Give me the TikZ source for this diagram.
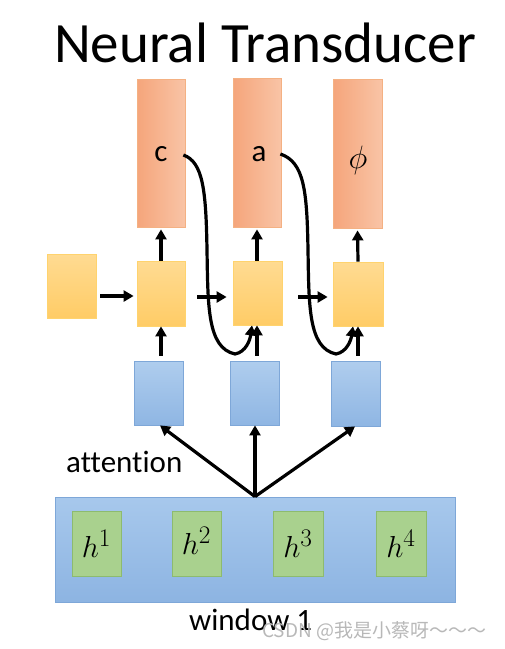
\documentclass[tikz,border=0pt]{standalone}
\usepackage{graphicx}
\usepackage{fontspec}
\setmainfont{Carlito}[Ligatures=NoCommon]
\newfontfamily\cjkfont{Noto Sans CJK SC}
\usetikzlibrary{arrows.meta}
\definecolor{orgL}{HTML}{F5A57B}
\definecolor{orgR}{HTML}{F9C4A6}
\definecolor{orgB}{HTML}{F4B183}
\definecolor{ylwT}{HTML}{FFDB92}
\definecolor{ylwB}{HTML}{FFCC66}
\definecolor{ylwD}{HTML}{FFD36E}
\definecolor{bluT}{HTML}{AFCDEE}
\definecolor{bluB}{HTML}{8FB6E3}
\definecolor{bluD}{HTML}{7EA7D8}
\definecolor{winT}{HTML}{A7C8EC}
\definecolor{winB}{HTML}{8DB4E2}
\definecolor{grn}{HTML}{A9D18E}
\definecolor{grnD}{HTML}{8DBB6E}
\newcommand{\bigmath}[1]{\scalebox{1.22}{$#1$}}
\tikzset{
  box/.style={rectangle, inner sep=0pt, line width=0.8pt},
  outbox/.style={box, draw=orgB, left color=orgL, right color=orgR},
  hidbox/.style={box, draw=ylwD, top color=ylwT, bottom color=ylwB},
  encbox/.style={box, draw=bluD, top color=bluT, bottom color=bluB},
  winbox/.style={box, draw=bluD, top color=winT, bottom color=winB},
  hbox/.style={box, draw=grnD, fill=grn},
  arr/.style={line width=3.2pt, -{Triangle[length=10pt,width=11pt]}},
  curv/.style={line width=3.2pt, -{Triangle[length=10pt,width=11pt]}},
  lbl/.style={inner sep=0pt, font=\fontsize{31}{31}\selectfont},
  hl/.style={inner sep=0pt, font=\fontsize{24.88}{25}\selectfont},
}
\begin{document}
\begin{tikzpicture}[x=1pt,y=-1pt]
\useasboundingbox (0,0) rectangle (505,649);
% title
\node[inner sep=0pt, font=\fontsize{57}{57}\selectfont, anchor=base] (title) at (265,62) {Neural Transducer};
% output boxes
\node[outbox, minimum width=48pt, minimum height=148pt] (o1) at (161,153) {};
\node[outbox, minimum width=48pt, minimum height=149pt] (o2) at (257,152.5) {};
\node[outbox, minimum width=49pt, minimum height=149pt] (o3) at (357.5,153.5) {};
\node[lbl] (lc) at (161,154) {c};
\node[lbl] (la) at (259,154) {a};
\node[hl] (lp) at (358,160) {\scalebox{1.3}{$\phi$}};
% hidden boxes
\node[hidbox, minimum width=49pt, minimum height=64pt] (y0) at (71.5,286) {};
\node[hidbox, minimum width=48pt, minimum height=65pt] (y1) at (161,293.5) {};
\node[hidbox, minimum width=49pt, minimum height=64pt] (y2) at (257.5,293) {};
\node[hidbox, minimum width=50pt, minimum height=64pt] (y3) at (358,294) {};
% encoder boxes
\node[encbox, minimum width=49pt, minimum height=64pt] (b1) at (158.5,393) {};
\node[encbox, minimum width=49pt, minimum height=64pt] (b2) at (254.5,393) {};
\node[encbox, minimum width=49pt, minimum height=65pt] (b3) at (355.5,393.5) {};
% window
\node[winbox, minimum width=400pt, minimum height=105pt] (win) at (255,549.5) {};
\node[hbox, minimum width=49pt, minimum height=65pt] (h1) at (96.5,543.5) {};
\node[hbox, minimum width=49pt, minimum height=65pt] (h2) at (196.5,543.5) {};
\node[hbox, minimum width=50pt, minimum height=65pt] (h3) at (298,543.5) {};
\node[hbox, minimum width=50pt, minimum height=65pt] (h4) at (401,543.5) {};
\node[hl] at (h1) {\bigmath{h^1}};
\node[hl] at ([yshift=3pt]h2.center) {\bigmath{h^2}};
\node[hl] at (h3) {\bigmath{h^3}};
\node[hl] at (h4) {\bigmath{h^4}};
% texts
\node[lbl, anchor=west] (att) at (66,462) {attention};
\node[lbl, anchor=base west] (wtxt) at (189,630) {window 1};
\node[inner sep=0pt, anchor=base west, text=black!28, font=\fontsize{19}{19}\selectfont\cjkfont] (wm) at (262,637) {CSDN @我是小蔡呀～～～};
% horizontal arrows
\draw[arr, shorten <=4pt, shorten >=3pt] (y0.east |- 0,296) -- (y1.west |- 0,296);
\draw[arr, shorten <=12pt, shorten >=6pt] (y1.east |- 0,297) -- (y2.west |- 0,297);
\draw[arr, shorten <=16pt, shorten >=5pt] (y2.east |- 0,297) -- (y3.west |- 0,297);
% hidden -> output
\draw[arr, shorten >=2pt] (y1.north) -- (o1.south);
\draw[arr, shorten >=2pt] (y2.north -| 257,0) -- (o2.south -| 257,0);
\draw[arr, shorten >=2pt] (y3.north) -- (o3.south);
% encoder -> hidden
\draw[arr, shorten <=5pt] (b1.north -| 161,0) -- (y1.south -| 161,0);
\draw[arr, shorten <=5pt] (b2.north -| 257,0) -- (y2.south -| 257,0);
\draw[arr, shorten <=5pt] (b3.north -| 358,0) -- (y3.south -| 358,0);
% attention arrows
\draw[arr] (win.north) -- (b1.south -| 160,0);
\draw[arr] (win.north) -- (b2.south -| 255,0);
\draw[arr] (win.north) -- (b3.south -| 355,0);
% feedback curves
\coordinate (c1s) at ([xshift=-2pt,yshift=-2pt]o1.east);
\coordinate (c2s) at ([xshift=-1pt,yshift=-1.5pt]o2.east);
\draw[curv] (c1s) .. controls (203,162) and (206,190) .. (207,250)
  .. controls (208,305) and (207,348) .. (235,354)
  .. controls (246,352) and (250,340) .. (y2.south -| 252,0);
\draw[curv] (c2s) .. controls (304,162) and (307,190) .. (308,250)
  .. controls (309,305) and (308,348) .. (336,354)
  .. controls (347,352) and (351,340) .. (y3.south -| 353,0);
\end{tikzpicture}
\end{document}
